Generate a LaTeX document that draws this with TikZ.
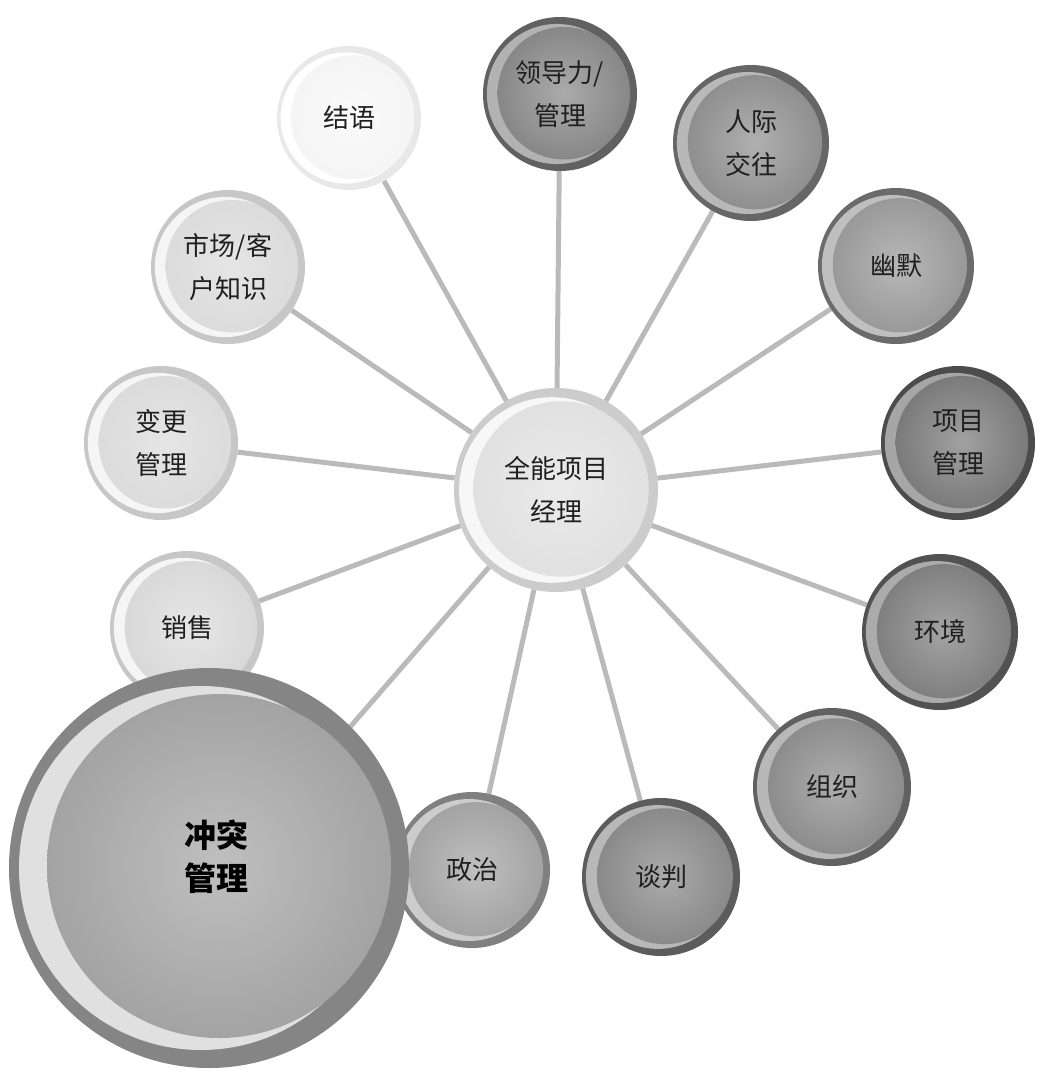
\documentclass[tikz,border=0pt]{standalone}
\usepackage{fontspec}
\newfontfamily\cjk{Noto Sans CJK SC}
\usetikzlibrary{backgrounds}
\tikzset{
  bubtext/.style={circle, inner sep=0pt, outer sep=0pt, align=center,
    font=\cjk\fontsize{26}{43}\selectfont, text=black!88},
  bigtext/.style={align=center, inner sep=0pt, font=\cjk\bfseries\fontsize{32}{43}\selectfont, text=black},
  spoke/.style={line width=5pt, draw=black!27},
}
% #1 name, #2 x, #3 y, #4 r, #5 rim level, #6 highlight level, #7 body level, #8 text style, #9 text
\newcommand\bub[9]{%
  \pgfmathtruncatemacro\innerlvl{#7*0.72}%
  \fill[black!#5] (#2,#3) circle[radius=#4];
  \fill[black!#6] ({#2-0.04*#4},#3) circle[radius={0.91*#4}];
  \shade[inner color=black!\innerlvl, outer color=black!#7] ({#2+0.05*#4},{#3-0.01*#4}) circle[radius={0.86*#4}];
  \node[#8, minimum size={2*#4 pt}] (#1) at (#2,#3) {#9};
}
\begin{document}
\begin{tikzpicture}[x=1pt,y=-1pt]
\useasboundingbox (0,0) rectangle (1044,1077);
\bub{jieyu}{349}{118}{72}{9}{0}{4}{bubtext}{结语}
\bub{lingdao}{560}{94}{77}{62}{30}{47}{bubtext}{领导力/\\管理}
\bub{renji}{751}{143}{78}{60}{28}{44}{bubtext}{人际\\交往}
\bub{youmo}{896}{266}{78}{58}{25}{40}{bubtext}{幽默}
\bub{xiangmu}{958}{443}{77}{70}{35}{52}{bubtext}{项目\\管理}
\bub{huanjing}{940}{632}{78}{68}{33}{50}{bubtext}{环境}
\bub{zuzhi}{832}{787}{79}{62}{28}{45}{bubtext}{组织}
\bub{tanpan}{661}{877}{79}{64}{28}{46}{bubtext}{谈判}
\bub{zhengzhi}{472}{870}{78}{50}{20}{36}{bubtext}{政治}
\bub{xiaoshou}{187}{628}{77}{22}{4}{15}{bubtext}{销售}
\bub{chongtu}{209}{868}{200}{48}{12}{36}{bubtext}{}
\node[bigtext] (chongtulbl) at (216,857) {冲突\\管理};
\bub{biangeng}{161}{443}{77}{22}{4}{14}{bubtext}{变更\\管理}
\bub{shichang}{228}{267}{77}{22}{4}{14}{bubtext}{市场/客\\户知识}
\bub{center}{556}{490}{102}{20}{3}{12}{bubtext}{全能项目\\经理}
\begin{scope}[on background layer]
  \foreach \t in {jieyu,lingdao,renji,youmo,xiangmu,huanjing,zuzhi,tanpan,zhengzhi,xiaoshou,biangeng,shichang}
    \draw[spoke] (center) -- (\t);
  \draw[spoke] (center) -- (chongtu.45);
\end{scope}
\end{tikzpicture}
\end{document}
